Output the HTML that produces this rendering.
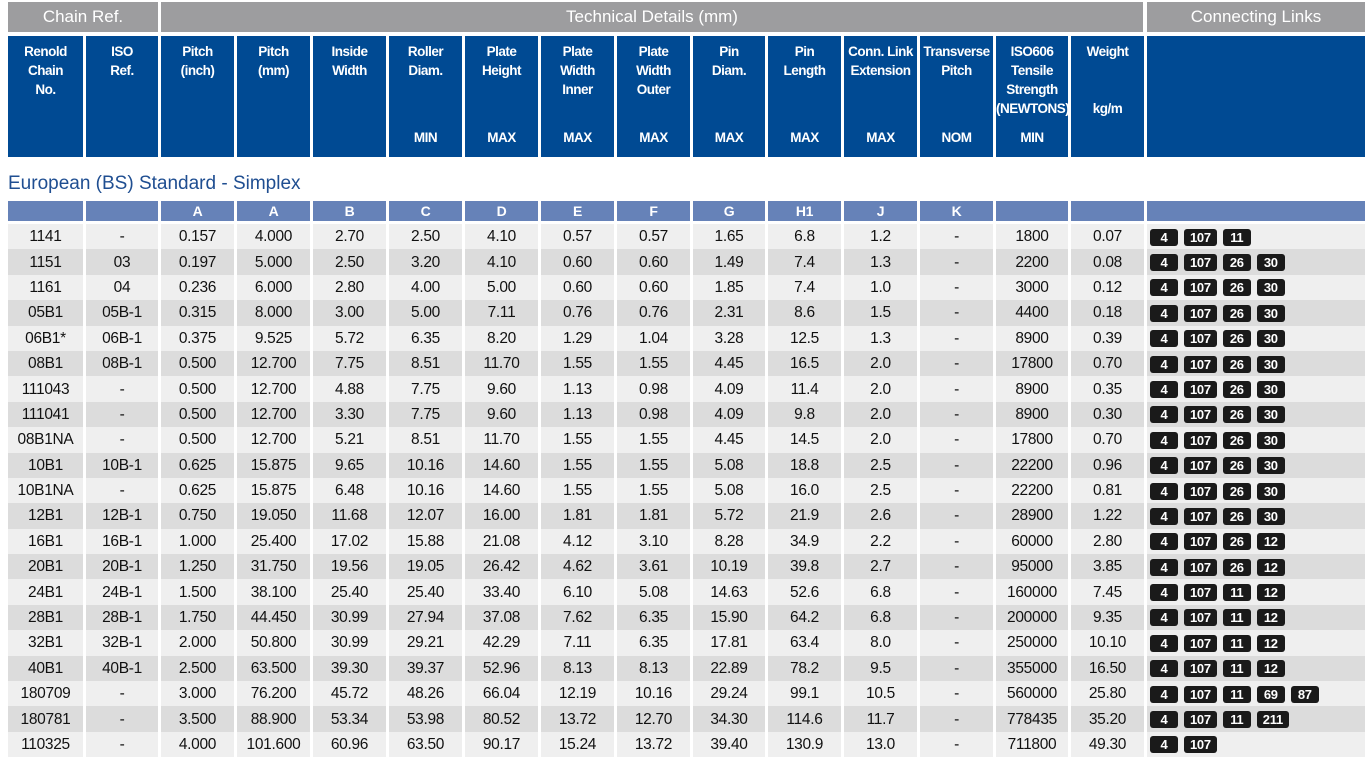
<!DOCTYPE html>
<html><head><meta charset="utf-8"><style>
*{margin:0;padding:0;box-sizing:border-box}
body{width:1369px;height:764px;background:#fff;font-family:"Liberation Sans",sans-serif;position:relative;overflow:hidden}
.g{position:absolute;top:2px;height:30px;background:#9d9d9f;color:#fff;font-size:17px;text-align:center;line-height:30px}
table{position:absolute;left:5px;width:1363px;border-collapse:separate;border-spacing:3px 0;table-layout:fixed}
.hd{top:36px}
.hd td{height:121px;background:#004a93;color:#fff;font-weight:bold;font-size:13.5px;letter-spacing:-.5px;line-height:19px;text-align:center;vertical-align:top;padding-top:6px;position:relative;overflow:visible;white-space:nowrap}
.hd td b{position:absolute;left:0;right:0;top:92px}
.title{position:absolute;left:8px;top:173px;color:#1f4e91;font-size:19px}
.dt{top:201px}
.dt tr.l td{height:20px;background:#6682b8;color:#fff;font-weight:bold;font-size:14px;text-align:center;padding:0}
.dt tr.sp td{height:3px;background:none}
.dt td{height:25.4px;text-align:center;font-size:15.5px;color:#111;letter-spacing:-.3px;padding:0;padding-top:1px;white-space:nowrap}
.dt tr:nth-child(odd) td{background:#efefef}
.dt tr:nth-child(even) td{background:#dcdcdc}
.dt tr.l td{background:#6682b8}
.dt tr.sp td{background:#fff}
.dt td.k{text-align:left;padding-left:3px}
.k i{display:inline-block;background:#1a1a1a;color:#fff;font-style:normal;font-weight:bold;font-size:13px;height:17px;line-height:17px;border-radius:3px;padding:0 6px;margin-right:6px;min-width:28px;text-align:center;vertical-align:middle}
</style></head><body>
<div class="g" style="left:8px;width:150px">Chain Ref.</div>
<div class="g" style="left:161px;width:982px">Technical Details (mm)</div>
<div class="g" style="left:1147px;width:218px">Connecting Links</div>
<table class="hd"><colgroup><col style="width:75px"><col style="width:72px"><col style="width:73px"><col style="width:73px"><col style="width:73px"><col style="width:73px"><col style="width:73px"><col style="width:73px"><col style="width:73px"><col style="width:72px"><col style="width:73px"><col style="width:73px"><col style="width:73px"><col style="width:72px"><col style="width:73px"><col style="width:218px"></colgroup>
<tr><td>Renold<br>Chain<br>No.</td><td>ISO<br>Ref.</td><td>Pitch<br>(inch)</td><td>Pitch<br>(mm)</td><td>Inside<br>Width</td><td>Roller<br>Diam.<b>MIN</b></td><td>Plate<br>Height<b>MAX</b></td><td>Plate<br>Width<br>Inner<b>MAX</b></td><td>Plate<br>Width<br>Outer<b>MAX</b></td><td>Pin<br>Diam.<b>MAX</b></td><td>Pin<br>Length<b>MAX</b></td><td>Conn. Link<br>Extension<b>MAX</b></td><td>Transverse<br>Pitch<b>NOM</b></td><td>ISO606<br>Tensile<br>Strength<br>(NEWTONS)<b>MIN</b></td><td>Weight<br><br><br>kg/m</td><td></td></tr></table>
<div class="title">European (BS) Standard - Simplex</div>
<table class="dt"><colgroup><col style="width:75px"><col style="width:72px"><col style="width:73px"><col style="width:73px"><col style="width:73px"><col style="width:73px"><col style="width:73px"><col style="width:73px"><col style="width:73px"><col style="width:72px"><col style="width:73px"><col style="width:73px"><col style="width:73px"><col style="width:72px"><col style="width:73px"><col style="width:218px"></colgroup>
<tr class="l"><td></td><td></td><td>A</td><td>A</td><td>B</td><td>C</td><td>D</td><td>E</td><td>F</td><td>G</td><td>H1</td><td>J</td><td>K</td><td></td><td></td><td></td></tr>
<tr class="sp"><td></td><td></td><td></td><td></td><td></td><td></td><td></td><td></td><td></td><td></td><td></td><td></td><td></td><td></td><td></td><td></td></tr>
<tr><td>1141</td><td>-</td><td>0.157</td><td>4.000</td><td>2.70</td><td>2.50</td><td>4.10</td><td>0.57</td><td>0.57</td><td>1.65</td><td>6.8</td><td>1.2</td><td>-</td><td>1800</td><td>0.07</td><td class="k"><i>4</i><i>107</i><i>11</i></td></tr>
<tr><td>1151</td><td>03</td><td>0.197</td><td>5.000</td><td>2.50</td><td>3.20</td><td>4.10</td><td>0.60</td><td>0.60</td><td>1.49</td><td>7.4</td><td>1.3</td><td>-</td><td>2200</td><td>0.08</td><td class="k"><i>4</i><i>107</i><i>26</i><i>30</i></td></tr>
<tr><td>1161</td><td>04</td><td>0.236</td><td>6.000</td><td>2.80</td><td>4.00</td><td>5.00</td><td>0.60</td><td>0.60</td><td>1.85</td><td>7.4</td><td>1.0</td><td>-</td><td>3000</td><td>0.12</td><td class="k"><i>4</i><i>107</i><i>26</i><i>30</i></td></tr>
<tr><td>05B1</td><td>05B-1</td><td>0.315</td><td>8.000</td><td>3.00</td><td>5.00</td><td>7.11</td><td>0.76</td><td>0.76</td><td>2.31</td><td>8.6</td><td>1.5</td><td>-</td><td>4400</td><td>0.18</td><td class="k"><i>4</i><i>107</i><i>26</i><i>30</i></td></tr>
<tr><td>06B1*</td><td>06B-1</td><td>0.375</td><td>9.525</td><td>5.72</td><td>6.35</td><td>8.20</td><td>1.29</td><td>1.04</td><td>3.28</td><td>12.5</td><td>1.3</td><td>-</td><td>8900</td><td>0.39</td><td class="k"><i>4</i><i>107</i><i>26</i><i>30</i></td></tr>
<tr><td>08B1</td><td>08B-1</td><td>0.500</td><td>12.700</td><td>7.75</td><td>8.51</td><td>11.70</td><td>1.55</td><td>1.55</td><td>4.45</td><td>16.5</td><td>2.0</td><td>-</td><td>17800</td><td>0.70</td><td class="k"><i>4</i><i>107</i><i>26</i><i>30</i></td></tr>
<tr><td>111043</td><td>-</td><td>0.500</td><td>12.700</td><td>4.88</td><td>7.75</td><td>9.60</td><td>1.13</td><td>0.98</td><td>4.09</td><td>11.4</td><td>2.0</td><td>-</td><td>8900</td><td>0.35</td><td class="k"><i>4</i><i>107</i><i>26</i><i>30</i></td></tr>
<tr><td>111041</td><td>-</td><td>0.500</td><td>12.700</td><td>3.30</td><td>7.75</td><td>9.60</td><td>1.13</td><td>0.98</td><td>4.09</td><td>9.8</td><td>2.0</td><td>-</td><td>8900</td><td>0.30</td><td class="k"><i>4</i><i>107</i><i>26</i><i>30</i></td></tr>
<tr><td>08B1NA</td><td>-</td><td>0.500</td><td>12.700</td><td>5.21</td><td>8.51</td><td>11.70</td><td>1.55</td><td>1.55</td><td>4.45</td><td>14.5</td><td>2.0</td><td>-</td><td>17800</td><td>0.70</td><td class="k"><i>4</i><i>107</i><i>26</i><i>30</i></td></tr>
<tr><td>10B1</td><td>10B-1</td><td>0.625</td><td>15.875</td><td>9.65</td><td>10.16</td><td>14.60</td><td>1.55</td><td>1.55</td><td>5.08</td><td>18.8</td><td>2.5</td><td>-</td><td>22200</td><td>0.96</td><td class="k"><i>4</i><i>107</i><i>26</i><i>30</i></td></tr>
<tr><td>10B1NA</td><td>-</td><td>0.625</td><td>15.875</td><td>6.48</td><td>10.16</td><td>14.60</td><td>1.55</td><td>1.55</td><td>5.08</td><td>16.0</td><td>2.5</td><td>-</td><td>22200</td><td>0.81</td><td class="k"><i>4</i><i>107</i><i>26</i><i>30</i></td></tr>
<tr><td>12B1</td><td>12B-1</td><td>0.750</td><td>19.050</td><td>11.68</td><td>12.07</td><td>16.00</td><td>1.81</td><td>1.81</td><td>5.72</td><td>21.9</td><td>2.6</td><td>-</td><td>28900</td><td>1.22</td><td class="k"><i>4</i><i>107</i><i>26</i><i>30</i></td></tr>
<tr><td>16B1</td><td>16B-1</td><td>1.000</td><td>25.400</td><td>17.02</td><td>15.88</td><td>21.08</td><td>4.12</td><td>3.10</td><td>8.28</td><td>34.9</td><td>2.2</td><td>-</td><td>60000</td><td>2.80</td><td class="k"><i>4</i><i>107</i><i>26</i><i>12</i></td></tr>
<tr><td>20B1</td><td>20B-1</td><td>1.250</td><td>31.750</td><td>19.56</td><td>19.05</td><td>26.42</td><td>4.62</td><td>3.61</td><td>10.19</td><td>39.8</td><td>2.7</td><td>-</td><td>95000</td><td>3.85</td><td class="k"><i>4</i><i>107</i><i>26</i><i>12</i></td></tr>
<tr><td>24B1</td><td>24B-1</td><td>1.500</td><td>38.100</td><td>25.40</td><td>25.40</td><td>33.40</td><td>6.10</td><td>5.08</td><td>14.63</td><td>52.6</td><td>6.8</td><td>-</td><td>160000</td><td>7.45</td><td class="k"><i>4</i><i>107</i><i>11</i><i>12</i></td></tr>
<tr><td>28B1</td><td>28B-1</td><td>1.750</td><td>44.450</td><td>30.99</td><td>27.94</td><td>37.08</td><td>7.62</td><td>6.35</td><td>15.90</td><td>64.2</td><td>6.8</td><td>-</td><td>200000</td><td>9.35</td><td class="k"><i>4</i><i>107</i><i>11</i><i>12</i></td></tr>
<tr><td>32B1</td><td>32B-1</td><td>2.000</td><td>50.800</td><td>30.99</td><td>29.21</td><td>42.29</td><td>7.11</td><td>6.35</td><td>17.81</td><td>63.4</td><td>8.0</td><td>-</td><td>250000</td><td>10.10</td><td class="k"><i>4</i><i>107</i><i>11</i><i>12</i></td></tr>
<tr><td>40B1</td><td>40B-1</td><td>2.500</td><td>63.500</td><td>39.30</td><td>39.37</td><td>52.96</td><td>8.13</td><td>8.13</td><td>22.89</td><td>78.2</td><td>9.5</td><td>-</td><td>355000</td><td>16.50</td><td class="k"><i>4</i><i>107</i><i>11</i><i>12</i></td></tr>
<tr><td>180709</td><td>-</td><td>3.000</td><td>76.200</td><td>45.72</td><td>48.26</td><td>66.04</td><td>12.19</td><td>10.16</td><td>29.24</td><td>99.1</td><td>10.5</td><td>-</td><td>560000</td><td>25.80</td><td class="k"><i>4</i><i>107</i><i>11</i><i>69</i><i>87</i></td></tr>
<tr><td>180781</td><td>-</td><td>3.500</td><td>88.900</td><td>53.34</td><td>53.98</td><td>80.52</td><td>13.72</td><td>12.70</td><td>34.30</td><td>114.6</td><td>11.7</td><td>-</td><td>778435</td><td>35.20</td><td class="k"><i>4</i><i>107</i><i>11</i><i>211</i></td></tr>
<tr><td>110325</td><td>-</td><td>4.000</td><td>101.600</td><td>60.96</td><td>63.50</td><td>90.17</td><td>15.24</td><td>13.72</td><td>39.40</td><td>130.9</td><td>13.0</td><td>-</td><td>711800</td><td>49.30</td><td class="k"><i>4</i><i>107</i></td></tr>
</table>
</body></html>
